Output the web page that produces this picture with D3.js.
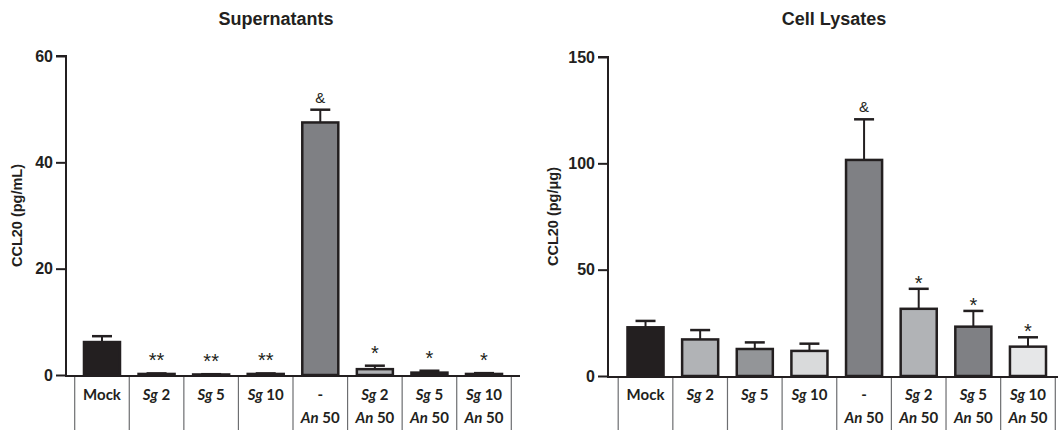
<!DOCTYPE html>
<html>
<head>
<meta charset="utf-8">
<title>CCL20 supernatants and cell lysates</title>
<script src="https://cdn.jsdelivr.net/npm/d3@7/dist/d3.min.js"></script>
<style>
  body { margin: 0; background: #fff; }
  .title { font-family: "Liberation Sans", Arial, sans-serif; font-weight: bold; font-size: 18px; fill: #231f20; text-anchor: middle; }
  .ytitle { font-family: "Liberation Sans", Arial, sans-serif; font-weight: bold; font-size: 14.5px; fill: #231f20; text-anchor: middle; }
  .tick text { font-family: "Liberation Sans", Arial, sans-serif; font-weight: bold; font-size: 16px; fill: #231f20; }
  .xlab { font-family: Lato, "Open Sans", sans-serif; font-weight: bold; font-size: 15px; fill: #231f20; text-anchor: middle; }
  .mark { font-family: "Liberation Sans", Arial, sans-serif; fill: #231f20; text-anchor: middle; }
</style>
</head>
<body>
<script>
var categories = ["Mock", "Sg 2", "Sg 5", "Sg 10", "An 50", "Sg 2 + An 50", "Sg 5 + An 50", "Sg 10 + An 50"];
var labelTop = ["Mock", "Sg 2", "Sg 5", "Sg 10", "-", "Sg 2", "Sg 5", "Sg 10"];
var labelBottom = ["", "", "", "", "An 50", "An 50", "An 50", "An 50"];
var barColors = ["#231f20", "#b1b3b6", "#939598", "#d9dadb", "#7f8084", "#b1b3b6", "#7f8084", "#e6e7e8"];

// Supernatants, pg/mL (mean and SEM)
var supMean = [6.2, 0.2, 0.1, 0.2, 47.5, 1.1, 0.45, 0.2];
var supSem = [1.1, 0.1, 0.05, 0.1, 2.4, 0.65, 0.35, 0.15];
var supMarks = ["", "**", "**", "**", "&", "*", "*", "*"];
var supTicks = [0, 20, 40, 60];

// Cell lysates, pg/ug (mean and SEM)
var lysMean = [22.9, 17.2, 12.7, 11.8, 101.6, 31.6, 23.2, 13.8];
var lysSem = [3.0, 4.4, 3.1, 3.4, 19.1, 9.4, 7.4, 4.4];
var lysMarks = ["", "", "", "", "&", "*", "*", "*"];
var lysTicks = [0, 50, 100, 150];

var svg = d3.select("body").append("svg").attr("width", 1058).attr("height", 430);

function drawPanel(p) {
  var g = svg.append("g");
  var y = d3.scaleLinear().domain([0, p.ymax]).range([p.y0, p.y1]);
  var x = d3.scaleBand().domain(categories).range([p.x0, p.x1]).paddingInner(0.34).paddingOuter(0.17);
  var step = x.step();

  g.append("text").attr("class", "title").attr("x", p.titleX).attr("y", 25).text(p.title);

  g.append("text").attr("class", "ytitle")
    .attr("transform", "translate(" + p.ytitleX + "," + (p.y0 + p.y1) / 2 + ") rotate(-90)")
    .attr("dy", "0.35em").text(p.ylabel);

  var yAxis = g.append("g").attr("transform", "translate(" + p.axisX + ",0)")
    .call(d3.axisLeft(y).tickValues(p.ticks).tickSize(10).tickPadding(3).tickFormat(d3.format("d")));
  yAxis.select(".domain").attr("stroke", "#231f20").attr("stroke-width", 2).attr("d", "M0," + p.y0 + "V" + p.y1 + "H-10");
  yAxis.selectAll(".tick line").attr("stroke", "#231f20").attr("stroke-width", 2);

  // separators under the x axis
  var seps = categories.map(function (c) { return x(c) - step * 0.17; }).concat([p.x1]);
  g.selectAll(".sep").data(seps).enter().append("line")
    .attr("x1", function (d) { return d; }).attr("x2", function (d) { return d; })
    .attr("y1", p.y0).attr("y2", 430)
    .attr("stroke", "#6d6e71").attr("stroke-width", 1.2);

  g.append("line").attr("x1", p.axisX - 1).attr("x2", p.axisEnd).attr("y1", p.y0 + 1).attr("y2", p.y0 + 1)
    .attr("stroke", "#231f20").attr("stroke-width", 2);

  var data = categories.map(function (c, i) {
    return { cat: c, mean: p.mean[i], sem: p.sem[i], color: barColors[i], mark: p.marks[i], top: labelTop[i], bottom: labelBottom[i] };
  });

  var bars = g.selectAll(".bar").data(data).enter().append("g");
  // error bars
  bars.append("line")
    .attr("x1", function (d) { return x(d.cat) + x.bandwidth() / 2; })
    .attr("x2", function (d) { return x(d.cat) + x.bandwidth() / 2; })
    .attr("y1", function (d) { return y(d.mean); })
    .attr("y2", function (d) { return y(d.mean + d.sem); })
    .attr("stroke", "#231f20").attr("stroke-width", 2);
  bars.append("line")
    .attr("x1", function (d) { return x(d.cat) + x.bandwidth() / 2 - 10; })
    .attr("x2", function (d) { return x(d.cat) + x.bandwidth() / 2 + 10; })
    .attr("y1", function (d) { return y(d.mean + d.sem); })
    .attr("y2", function (d) { return y(d.mean + d.sem); })
    .attr("stroke", "#231f20").attr("stroke-width", 2.5);
  bars.append("rect")
    .attr("x", function (d) { return x(d.cat); })
    .attr("width", x.bandwidth())
    .attr("y", function (d) { return y(d.mean); })
    .attr("height", function (d) { return Math.max(0.5, p.y0 - y(d.mean)); })
    .attr("fill", function (d) { return d.color; })
    .attr("stroke", "#231f20").attr("stroke-width", 2.5);

  // significance marks
  bars.filter(function (d) { return d.mark !== ""; }).append("text").attr("class", "mark")
    .attr("x", function (d) { return x(d.cat) + x.bandwidth() / 2; })
    .attr("y", function (d) {
      var t = y(d.mean + d.sem);
      return d.mark === "&" ? t - 7 : t - p.starGap + 12;
    })
    .attr("font-size", function (d) { return d.mark === "&" ? 15 : 20; })
    .text(function (d) { return d.mark; });

  // category labels
  function addLabel(sel, s) {
    var parts = s.split(" ");
    if (parts.length === 2) {
      sel.append("tspan").attr("font-style", "italic").text(parts[0]);
      sel.append("tspan").text(" " + parts[1]);
    } else {
      sel.text(s);
    }
  }
  data.forEach(function (d) {
    var cx = x(d.cat) + x.bandwidth() / 2;
    var t1 = g.append("text").attr("class", "xlab").attr("x", cx).attr("y", 400);
    addLabel(t1, d.top);
    if (d.bottom) {
      var t2 = g.append("text").attr("class", "xlab").attr("x", cx).attr("y", 423);
      addLabel(t2, d.bottom);
    }
  });
}

drawPanel({
  title: "Supernatants", titleX: 276, ylabel: "CCL20 (pg/mL)", ytitleX: 17,
  mean: supMean, sem: supSem, marks: supMarks, ticks: supTicks, ymax: 60,
  axisX: 66, axisEnd: 520, x0: 74.7, x1: 511.3, y0: 375, y1: 56, starGap: 18
});
drawPanel({
  title: "Cell Lysates", titleX: 834, ylabel: "CCL20 (pg/\u03bcg)", ytitleX: 553,
  mean: lysMean, sem: lysSem, marks: lysMarks, ticks: lysTicks, ymax: 150,
  axisX: 608, axisEnd: 1058, x0: 618.2, x1: 1055.3, y0: 376, y1: 57, starGap: 11
});
</script>
</body>
</html>
